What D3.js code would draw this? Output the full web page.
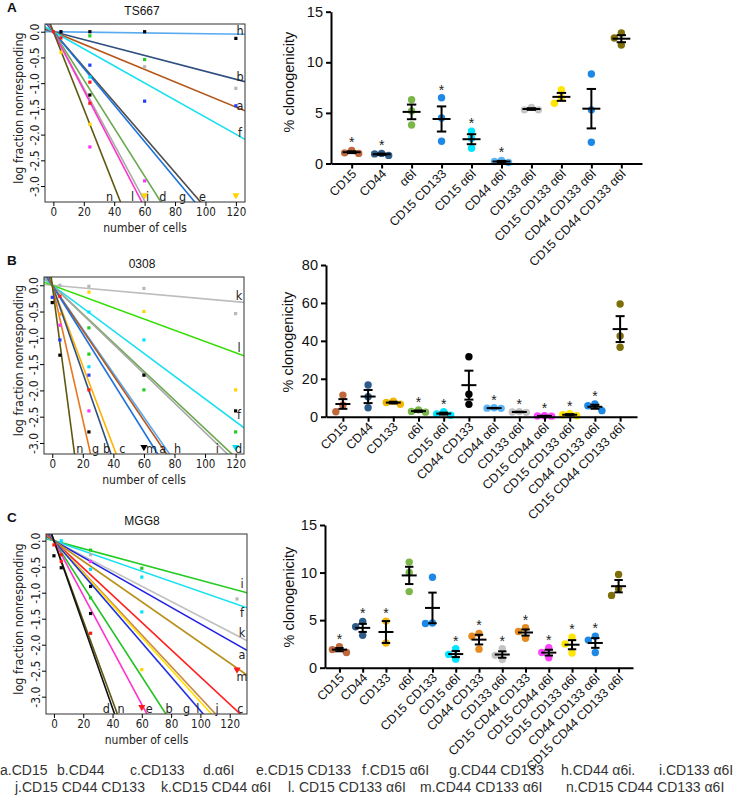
<!DOCTYPE html>
<html>
<head>
<meta charset="utf-8">
<script src="https://cdn.jsdelivr.net/npm/d3@7"></script>
<style>
  body { margin: 0; background: #fff; }
  svg text { font-family: "Liberation Sans", Arial, Helvetica, sans-serif; }
  .narrow { font-family: "Liberation Sans Narrow", "Arial Narrow", "DejaVu Sans Condensed", sans-serif; }
</style>
</head>
<body>
<script>
// ---------- limiting dilution panels (left) ----------
// letter of each fitted line, its slope (log fraction per cell) and where its letter sits
// (y value for lines leaving on the right, x value for lines leaving at the bottom)
var ldaLettersA = ['h', 'b', 'a', 'f', 'e', 'g', 'd', 'i', 'l', 'n'];
var ldaSlopesA  = [-0.0004, -0.0077, -0.0122, -0.0166, -0.0342, -0.0356, -0.0468, -0.0548, -0.0569, -0.075];
var ldaLabelAtA = [0.03, -0.88, -1.43, -1.96, 98, 85, 72, 62, 52, 37];
var ldaPointsA = [
  [0, 0, 'r'], [5, 0, 'k'], [5, -0.12, 'r'], [5, -0.40, 'y'],
  [24, 0, 'k'], [24, -0.08, 'g'], [24, -0.65, 'b'], [24, -0.88, 'c'], [24, -0.98, 'r'],
  [24, -1.23, 'k'], [24, -1.39, 'r'], [24, -1.80, 'y'], [24, -2.24, 'm'],
  [60, 0, 'k'], [60, -0.54, 'g'], [60, -0.68, 's'], [60, -1.35, 'b'], [60, -2.90, 'm'],
  [120, -0.13, 'k'], [120, -1.10, 's'], [120, -1.44, 'b']
];
var ldaCensA = [[60, -3.18, 'y'], [120, -3.18, 'y']];

var ldaLettersB = ['k', 'l', 'f', 'd', 'i', 'h', 'a', 'm', 'c', 'b', 'g', 'n'];
var ldaSlopesB  = [-0.0026, -0.0107, -0.0216, -0.0273, -0.028, -0.0418, -0.0429, -0.0465, -0.0767, -0.0835, -0.128, -0.22];
var ldaLabelAtB = [-0.19, -1.19, -2.46, 122, 108, 82, 72.3, 65, 45.8, 35.6, 28.4, 18.1];
var ldaPointsB = [
  [0, -0.23, 'b'], [0, -0.33, 'k'],
  [5, 0, 's'], [5, -0.21, 'r'], [5, -0.55, 'o'], [5, -0.76, 'm'], [5, -1.04, 'b'], [5, -1.33, 'k'],
  [24, -0.02, 's'], [24, -0.13, 'y'], [24, -0.51, 'c'], [24, -0.81, 'g'], [24, -1.31, 'g'],
  [24, -1.55, 'c'], [24, -1.71, 'b'], [24, -1.99, 'r'], [24, -2.39, 'm'], [24, -2.79, 'k'],
  [60, -0.06, 's'], [60, -0.50, 'y'], [60, -1.04, 'c'], [60, -1.71, 'k'], [60, -1.99, 'g'],
  [120, -0.54, 's'], [120, -1.99, 'y'], [120, -2.39, 'k'], [120, -2.79, 'g']
];
var ldaCensB = [[60, -3.08, 'k'], [120, -3.08, 'c']];

var ldaLettersC = ['i', 'f', 'k', 'a', 'm', 'c', 'j', 'l', 'g', 'b', 'e', 'n', 'd'];
var ldaSlopesC  = [-0.0076, -0.0098, -0.0146, -0.016, -0.0196, -0.0262, -0.0302, -0.031, -0.0327, -0.0436, -0.0525, -0.077, -0.0805];
var ldaLabelAtC = [-0.83, -1.39, -1.76, -2.18, -2.62, 127.3, 111.4, 98.3, 90.6, 78.6, 65, 45.9, 35.7];
var ldaPointsC = [
  [0, -0.08, 'r'], [0, -0.29, 'k'],
  [5, 0, 'c'], [5, -0.27, 'r'], [5, -0.40, 'r'], [5, -0.52, 'k'],
  [25, -0.18, 'g'], [25, -0.27, 's'], [25, -0.40, 'm'], [25, -0.55, 'c'], [25, -0.88, 'k'],
  [25, -1.10, 'g'], [25, -1.40, 'k'], [25, -1.78, 'r'],
  [60, -0.53, 'g'], [60, -0.70, 'c'], [60, -1.37, 'c'], [60, -2.48, 'y'],
  [125, -1.12, 's']
];
var ldaCensC = [[60, -3.2, 'r'], [125, -2.48, 'r']];

var cellTicks = [0, 20, 40, 60, 80, 100, 120];
var logTicks = [0, -0.5, -1, -1.5, -2, -2.5, -3];

// ---------- clonogenicity panels (right) ----------
var catsA = ['CD15', 'CD44', 'α6I', 'CD15 CD133', 'CD15 α6I', 'CD44 α6I', 'CD133 α6I',
  'CD15 CD133 α6I', 'CD44 CD133 α6I', 'CD15 CD44 CD133 α6I'];
var valsA = [[1.0, 1.3, 1.05], [0.8, 1.0, 0.95], [6.3, 5.2, 3.8], [6.5, 4.5, 2.2], [3.2, 2.5, 1.5],
  [0.3, 0.2, 0.1], [5.55, 5.3, 5.3], [7.3, 6.5, 5.95], [8.85, 5.3, 2.1], [12.9, 12.4, 11.7]];
var starA = [1, 1, 0, 1, 1, 1, 0, 0, 0, 0];

var catsB = ['CD15', 'CD44', 'CD133', 'α6I', 'CD15 α6I', 'CD44 CD133', 'CD44 α6I', 'CD133 α6I',
  'CD15 CD44 α6I', 'CD15 CD133 α6I', 'CD44 CD133 α6I', 'CD15 CD44 CD133 α6I'];
var valsB = [[11.4, 6.1, 2.6], [16.7, 10.5, 4.7], [8.2, 7.5, 6.6], [3.6, 2.8, 2.4], [2.6, 1.5, 0.8],
  [31.6, 11.8, 6.5], [4.7, 4.5, 4.4], [2.7, 2.5, 2.3], [0.5, 0.4, 0.3], [1.6, 1.0, 0.5],
  [6.7, 5.8, 3.2], [59.4, 42.6, 36.6]];
var starB = [0, 0, 0, 1, 1, 0, 1, 1, 1, 1, 1, 0];

var catsC = ['CD15', 'CD44', 'CD133', 'α6I', 'CD15 CD133', 'CD15 α6I', 'CD44 CD133', 'CD133 α6I',
  'CD15 CD44 CD133', 'CD15 CD44 α6I', 'CD15 CD133 α6I', 'CD44 CD133 α6I', 'CD15 CD44 CD133 α6I'];
var valsC = [[2.2, 1.9, 1.6], [4.86, 4.3, 3.4], [4.9, 2.6], [11.1, 10.0, 8.0], [9.5, 4.65, 4.7],
  [2.0, 1.4, 0.9], [3.6, 3.3, 1.95], [2.0, 1.3, 0.85], [4.2, 3.8, 3.1], [2.1, 1.6, 1.05],
  [3.2, 2.5, 1.55], [3.3, 2.9, 1.6], [9.8, 8.3, 7.6]];
var starC = [1, 1, 1, 0, 0, 1, 1, 1, 1, 1, 1, 1, 0];

var legendLine1 = ['a.CD15', 'b.CD44', 'c.CD133', 'd.α6I', 'e.CD15 CD133', 'f.CD15 α6I',
  'g.CD44 CD133', 'h.CD44 α6i.', 'i.CD133 α6I'];
var legendLine2 = ['j.CD15 CD44 CD133', 'k.CD15 CD44 α6I', 'l. CD15 CD133 α6I',
  'm.CD44 CD133 α6I', 'n.CD15 CD44 CD133 α6I'];

// ---------- styles ----------
var lineColor = {
  a: '#b5571b', b: '#2f4f7f', c: '#ffb300', d: '#6aa84f', e: '#4d4d4d', f: '#18e0f0', g: '#1d72d8',
  h: '#5aaaf0', i: '#a9a9a9', j: '#c8874a', k: '#bdbdbd', l: '#ff33cc', m: '#1d72d8', n: '#5e5810'
};
var lineColorB = { g: '#e8761e', l: '#33dd00' };
var lineColorC = { d: '#111111', e: '#ff33cc', b: '#22c022', g: '#1f2fe0', l: '#ffe000', c: '#ff2020',
  m: '#b8901a', a: '#2020e0', k: '#c0c0c0', i: '#22cc22' };
var ptColor = { k: '#000', r: '#ff1a1a', g: '#22cc22', b: '#1f3fff', c: '#00e5ff', y: '#ffd400',
  m: '#ff33ff', s: '#b8b8b8', o: '#ffa000' };
var dotColorsA = ['#c0673e', '#2e5c8a', '#7ab648', '#1e88e5', '#00e5ff', '#5ab4f5', '#c4c4c4',
  '#ffe600', '#1e88e5', '#7d6e0a'];
var dotColorsB = ['#c0673e', '#2e5c8a', '#f2b705', '#7ab648', '#00e5ff', '#000000', '#5ab4f5',
  '#c4c4c4', '#ff44ff', '#ffe600', '#1e88e5', '#7d6e0a'];
var dotColorsC = ['#c0673e', '#2e5c8a', '#f2b705', '#7ab648', '#1e88e5', '#00e5ff', '#e58a1f',
  '#c4c4c4', '#e58a1f', '#ff44ff', '#ffe600', '#1e88e5', '#7d6e0a'];

var svg = d3.select('body').append('svg')
  .attr('width', 734)
  .attr('height', 795);

function fmtLog(v) {
  return (v < 0 ? '-' : '') + Math.abs(v).toFixed(1);
}

function drawLda(cfg) {
  var g = svg.append('g');
  var b = cfg.box;
  var x = d3.scaleLinear().domain(cfg.xDom).range([b[0], b[1]]);
  var y = d3.scaleLinear().domain(cfg.yDom).range([b[3], b[2]]);

  svg.append('clipPath').attr('id', 'clip' + cfg.id)
    .append('rect').attr('x', b[0]).attr('y', b[2]).attr('width', b[1] - b[0]).attr('height', b[3] - b[2]);

  var inner = g.append('g').attr('clip-path', 'url(#clip' + cfg.id + ')');

  cfg.letters.forEach(function(L, i) {
    var s = cfg.slopes[i];
    var col = (cfg.colors && cfg.colors[L]) || lineColor[L];
    inner.append('line')
      .attr('x1', x(cfg.xDom[0])).attr('y1', y(s * cfg.xDom[0]))
      .attr('x2', x(cfg.xDom[1])).attr('y2', y(s * cfg.xDom[1]))
      .attr('stroke', col).attr('stroke-width', 1.6);
  });

  inner.selectAll('rect.pt').data(cfg.points).enter().append('rect')
    .attr('x', function(d) { return x(d[0]) - 1.6; })
    .attr('y', function(d) { return y(d[1]) - 1.6; })
    .attr('width', 3.2).attr('height', 3.2)
    .attr('fill', function(d) { return ptColor[d[2]]; });

  inner.selectAll('path.cens').data(cfg.cens).enter().append('path')
    .attr('d', d3.symbol(d3.symbolTriangle, 22))
    .attr('transform', function(d) { return 'translate(' + x(d[0]) + ',' + y(d[1]) + ') rotate(180)'; })
    .attr('fill', function(d) { return ptColor[d[2]]; });

  // letters
  cfg.letters.forEach(function(L, i) {
    var s = cfg.slopes[i];
    var right = cfg.yDom[0] / s > cfg.xDom[1];
    var t = g.append('text').attr('class', 'narrow')
      .attr('font-size', 12.5).attr('fill', '#222')
      .attr('text-anchor', 'middle').attr('dominant-baseline', 'central')
      .text(L);
    if (right) t.attr('x', b[1] - 5).attr('y', y(cfg.labelAt[i]));
    else t.attr('x', x(cfg.labelAt[i])).attr('y', b[3] - 6);
  });

  g.append('rect').attr('x', b[0]).attr('y', b[2])
    .attr('width', b[1] - b[0]).attr('height', b[3] - b[2])
    .attr('fill', 'none').attr('stroke', '#333').attr('stroke-width', 1);

  var xa = g.append('g').attr('transform', 'translate(0,' + b[3] + ')')
    .call(d3.axisBottom(x).tickValues(cellTicks).tickSize(4).tickPadding(2).tickSizeOuter(0));
  xa.select('.domain').remove();
  xa.selectAll('text').attr('class', 'narrow').attr('font-size', 11.5).attr('fill', '#222');

  var ya = g.append('g').attr('transform', 'translate(' + b[0] + ',0)')
    .call(d3.axisLeft(y).tickValues(logTicks).tickSize(4).tickSizeOuter(0).tickFormat(fmtLog));
  ya.select('.domain').remove();
  ya.selectAll('text').attr('class', 'narrow').attr('font-size', 12).attr('fill', '#222')
    .attr('x', 0).attr('dy', null).attr('text-anchor', 'middle')
    .attr('transform', 'translate(-6,0) rotate(-90)');

  g.append('text').attr('class', 'narrow').attr('font-size', 12).attr('fill', '#222')
    .attr('text-anchor', 'middle')
    .attr('x', (b[0] + b[1]) / 2).attr('y', b[3] + 30)
    .text('number of cells');
  g.append('text').attr('class', 'narrow').attr('font-size', 12.5).attr('fill', '#222')
    .attr('text-anchor', 'middle')
    .attr('transform', 'translate(23,' + ((b[2] + b[3]) / 2 - 5) + ') rotate(-90)')
    .text('log fraction nonresponding');

  g.append('text').attr('font-size', 12).attr('text-anchor', 'middle').attr('fill', '#111')
    .attr('x', 142).attr('y', b[2] - 9).text(cfg.title);
  g.append('text').attr('font-size', 13.5).attr('font-weight', 'bold').attr('fill', '#111')
    .attr('x', 7).attr('y', b[2] - 12).text(cfg.tag);
}

function swarm(vals, y, r) {
  var order = vals.map(function(v, i) { return i; })
    .sort(function(a, b) { return vals[b] - vals[a]; });
  var placed = [];
  var off = new Array(vals.length);
  var steps = [0, -1, 1, -2, 2];
  order.forEach(function(i) {
    var py = y(vals[i]);
    for (var k = 0; k < steps.length; k++) {
      var px = steps[k] * r * 1.9;
      var hit = placed.some(function(p) {
        return Math.hypot(p[0] - px, p[1] - py) < r * 1.8;
      });
      if (!hit) { off[i] = px; placed.push([px, py]); return; }
    }
    off[i] = 0;
  });
  return off;
}

function drawDots(cfg) {
  var g = svg.append('g');
  var x = d3.scalePoint().domain(cfg.cats).range([cfg.x0, cfg.x1]).padding(cfg.pad);
  var y = d3.scaleLinear().domain([0, cfg.yMax]).range([cfg.y0, cfg.yTop]);
  var r = 3.7;

  cfg.cats.forEach(function(c, i) {
    var vals = cfg.vals[i];
    var cx = x(c);
    var off = swarm(vals, y, r);
    vals.forEach(function(v, j) {
      g.append('circle').attr('cx', cx + off[j]).attr('cy', y(v)).attr('r', r)
        .attr('fill', cfg.colors[i]);
    });
    var m = d3.mean(vals);
    var sem = d3.deviation(vals) / Math.sqrt(vals.length);
    var bar = g.append('g').attr('stroke', '#000').attr('stroke-width', 2).attr('fill', 'none');
    bar.append('line').attr('x1', cx - cfg.meanW).attr('x2', cx + cfg.meanW).attr('y1', y(m)).attr('y2', y(m));
    bar.append('line').attr('x1', cx).attr('x2', cx).attr('y1', y(m + sem)).attr('y2', y(m - sem));
    bar.append('line').attr('x1', cx - cfg.capW).attr('x2', cx + cfg.capW).attr('y1', y(m + sem)).attr('y2', y(m + sem));
    bar.append('line').attr('x1', cx - cfg.capW).attr('x2', cx + cfg.capW).attr('y1', y(m - sem)).attr('y2', y(m - sem));
    if (cfg.stars[i]) {
      var top = Math.max(d3.max(vals), m + sem);
      g.append('text').attr('x', cx).attr('y', y(top) - 3).attr('text-anchor', 'middle')
        .attr('font-size', 14).attr('fill', '#222').text('*');
    }
  });

  var ya = g.append('g').attr('transform', 'translate(' + cfg.x0 + ',0)')
    .call(d3.axisLeft(y).tickValues(cfg.ticks).tickSize(5).tickSizeOuter(0));
  ya.selectAll('path,line').attr('stroke-width', 2);
  ya.selectAll('text').attr('font-size', 14.5).attr('fill', '#111');

  var xa = g.append('g').attr('transform', 'translate(0,' + cfg.y0 + ')')
    .call(d3.axisBottom(x).tickSize(5).tickSizeOuter(0));
  xa.selectAll('path,line').attr('stroke-width', 2);
  xa.selectAll('text').attr('font-size', 12.5).attr('fill', '#111')
    .attr('x', 0).attr('y', 0).attr('dy', null).attr('text-anchor', 'end')
    .attr('transform', 'translate(5,11) rotate(-45)');

  g.append('text').attr('font-size', 14.5).attr('fill', '#111').attr('text-anchor', 'middle')
    .attr('transform', 'translate(' + cfg.labelX + ',' + cfg.labelY + ') rotate(-90)')
    .text('% clonogenicity');
}

drawLda({ id: 'A', tag: 'A', title: 'TS667', box: [45, 245, 24, 202], xDom: [-5.5, 126], yDom: [-3.31, 0.15],
  letters: ldaLettersA, slopes: ldaSlopesA, labelAt: ldaLabelAtA, points: ldaPointsA, cens: ldaCensA });
drawLda({ id: 'B', tag: 'B', title: '0308', box: [44, 244, 277, 454], xDom: [-5.4, 125.5], yDom: [-3.21, 0.157],
  letters: ldaLettersB, slopes: ldaSlopesB, labelAt: ldaLabelAtB, points: ldaPointsB, cens: ldaCensB,
  colors: lineColorB });
drawLda({ id: 'C', tag: 'C', title: 'MGG8', box: [46, 247, 534, 714], xDom: [-5.42, 131.8], yDom: [-3.333, 0.129],
  letters: ldaLettersC, slopes: ldaSlopesC, labelAt: ldaLabelAtC, points: ldaPointsC, cens: ldaCensC,
  colors: lineColorC });

drawDots({ cats: catsA, vals: valsA, stars: starA, colors: dotColorsA, x0: 331, x1: 642, y0: 163.5, yTop: 11.7,
  yMax: 15, ticks: [0, 5, 10, 15], pad: 0.69, meanW: 9, capW: 4.7, labelX: 294, labelY: 82 });
drawDots({ cats: catsB, vals: valsB, stars: starB, colors: dotColorsB, x0: 326, x1: 637, y0: 416.7, yTop: 265,
  yMax: 80, ticks: [0, 20, 40, 60, 80], pad: 0.67, meanW: 7.5, capW: 4.5, labelX: 293, labelY: 342 });
drawDots({ cats: catsC, vals: valsC, stars: starC, colors: dotColorsC, x0: 325, x1: 633, y0: 667.7, yTop: 525,
  yMax: 15, ticks: [0, 5, 10, 15], pad: 0.62, meanW: 7.5, capW: 4.2, labelX: 294, labelY: 597 });

// legend of letters
var leg1X = [0, 57, 130, 203, 256, 362, 449, 561, 659];
var leg2X = [15, 161, 288, 420, 566];
var leg = svg.append('g').attr('font-size', 14).attr('fill', '#333');
legendLine1.forEach(function(t, i) {
  leg.append('text').attr('x', leg1X[i]).attr('y', 775).text(t);
});
legendLine2.forEach(function(t, i) {
  leg.append('text').attr('x', leg2X[i]).attr('y', 792).text(t);
});
</script>
</body>
</html>
